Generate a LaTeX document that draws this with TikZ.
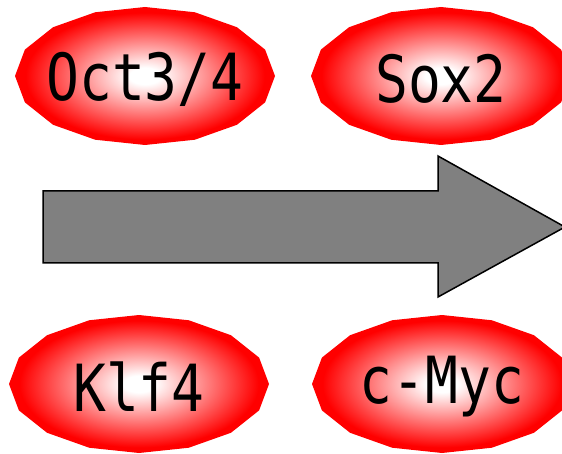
\documentclass[tikz,border=0pt]{standalone}
\usepackage{fontspec}
\usepackage{tikz}
\newfontfamily\genefont[FakeStretch=0.84]{DejaVu Sans Mono}
\pgfdeclareradialshading{genered}{\pgfpoint{0bp}{0bp}}{color(0bp)=(white); color(3bp)=(white); color(23bp)=(red); color(50bp)=(red)}
% a shaded 16-gon blob with a gene name on top
\newcommand{\gene}[4]{%
	\shade[shading=genered] plot[samples=17, domain=0:360] ({#2+130*cos(\x)}, {#3+69*sin(\x)}) -- cycle;
	\node[genetext] (#1) at (#2,#3+3) {#4};}

\begin{document}
\begin{tikzpicture}[x=1pt, y=-1pt, genetext/.style={font=\genefont\fontsize{65}{65}\selectfont, inner sep=0pt}]
			\useasboundingbox (0,0) rectangle (562,454);
			\gene{oct}{145}{76}{Oct3/4}
			\gene{sox}{441}{76}{Sox2}
			\gene{klf}{139}{384}{Klf4}
			\gene{myc}{442}{384}{c-Myc}
			\draw[fill=gray, line width=1.5pt] (43,191) -- (438,191) -- (438,156) -- (565,227) -- (438,297) -- (438,263) -- (43,263) -- cycle;
		\end{tikzpicture}
\end{document}
